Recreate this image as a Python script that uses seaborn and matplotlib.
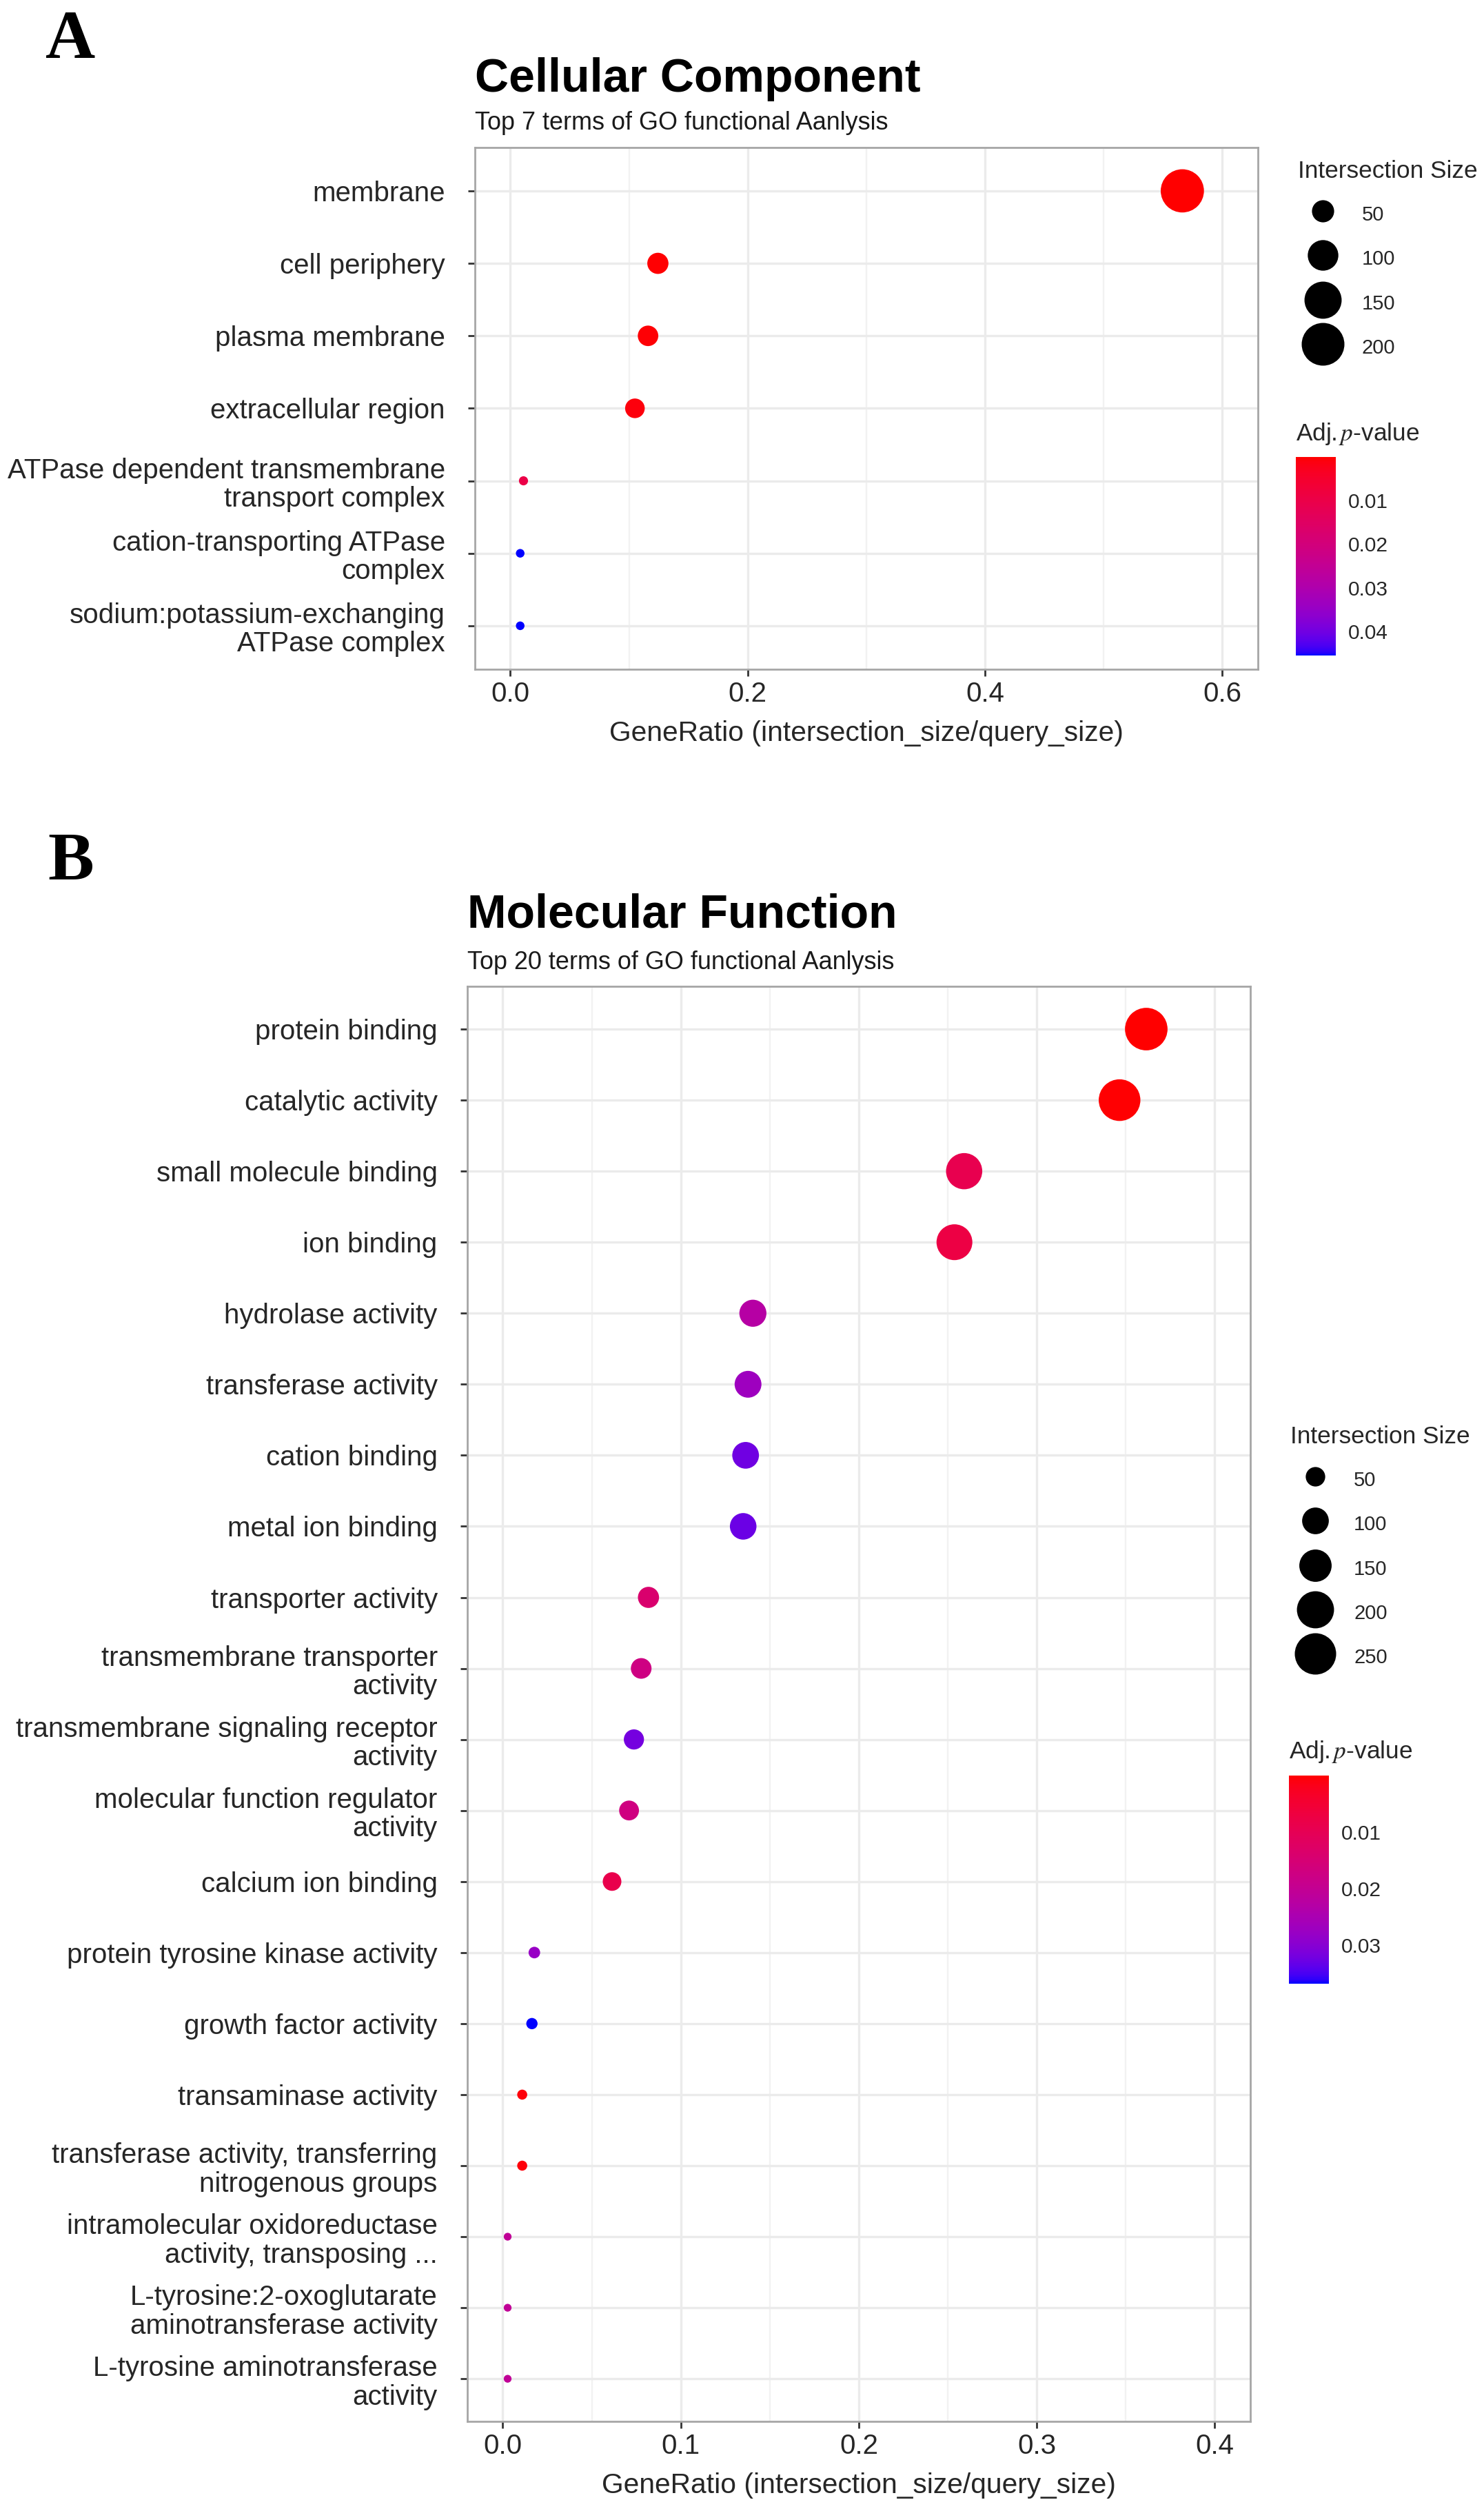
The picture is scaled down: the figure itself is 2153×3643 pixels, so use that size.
import numpy as np
import pandas as pd
import matplotlib
matplotlib.use("Agg")
import matplotlib.pyplot as plt
import seaborn as sns
from matplotlib.colors import ListedColormap, Normalize
from matplotlib.lines import Line2D
from matplotlib.ticker import MultipleLocator, FormatStrFormatter

# ---------------- data ----------------
# A: GO cellular component
cc_terms = ["membrane", "cell periphery", "plasma membrane", "extracellular region",
            "ATPase dependent transmembrane\ntransport complex",
            "cation-transporting ATPase\ncomplex",
            "sodium:potassium-exchanging\nATPase complex"]
cc_query_size = 362
cc_intersection = [205, 45, 42, 38, 4, 3, 3]
cc_padj = [2e-10, 3e-4, 5e-4, 9e-4, 0.0098, 0.0456, 0.0456]

# B: GO molecular function
mf_terms = ["protein binding", "catalytic activity", "small molecule binding", "ion binding",
            "hydrolase activity", "transferase activity", "cation binding", "metal ion binding",
            "transporter activity", "transmembrane transporter\nactivity",
            "transmembrane signaling receptor\nactivity",
            "molecular function regulator\nactivity",
            "calcium ion binding", "protein tyrosine kinase activity", "growth factor activity",
            "transaminase activity",
            "transferase activity, transferring\nnitrogenous groups",
            "intramolecular oxidoreductase\nactivity, transposing ...",
            "L-tyrosine:2-oxoglutarate\naminotransferase activity",
            "L-tyrosine aminotransferase\nactivity"]
mf_query_size = 733
mf_intersection = [265, 254, 190, 186, 103, 101, 100, 99, 60, 57, 54, 52, 45, 13, 12, 8, 8, 2, 2, 2]
mf_padj = [5e-5, 2e-4, 0.0092, 0.0074, 0.0228, 0.0269, 0.0324, 0.0328, 0.0140, 0.0173,
           0.0320, 0.0170, 0.0088, 0.0280, 0.0368, 7e-4, 7e-4, 0.0206, 0.0206, 0.0206]

cc_size_breaks = [50, 100, 150, 200]
mf_size_breaks = [50, 100, 150, 200, 250]
cc_p_ticks = [0.01, 0.02, 0.03, 0.04]
mf_p_ticks = [0.01, 0.02, 0.03]

W, H, DPI = 2153, 3643, 100
PX = DPI / 72.0  # pixels per point


# red -> blue gradient interpolated in CIE Lab (like ggplot's scale_colour_gradient)
M = np.array([[0.4124, 0.3576, 0.1805], [0.2126, 0.7152, 0.0722], [0.0193, 0.1192, 0.9505]])
M_INV = np.array([[3.2406, -1.5372, -0.4986], [-0.9689, 1.8758, 0.0415], [0.0557, -0.2040, 1.0570]])
WHITE = np.array([0.95047, 1.0, 1.08883])


def to_lab(rgb):
    rgb = np.asarray(rgb, float)
    lin = np.where(rgb <= 0.04045, rgb / 12.92, ((rgb + 0.055) / 1.055) ** 2.4)
    xyz = M @ lin / WHITE
    f = np.where(xyz > 216 / 24389, np.cbrt(xyz), (24389 / 27 * xyz + 16) / 116)
    return np.array([116 * f[1] - 16, 500 * (f[0] - f[1]), 200 * (f[1] - f[2])])


def lab_cmap(low, high, n=256):
    lab0, lab1 = to_lab(low), to_lab(high)
    t = np.linspace(0, 1, n)[:, None]
    lab = lab0 + (lab1 - lab0) * t
    fy = (lab[:, 0] + 16) / 116
    f = np.stack([fy + lab[:, 1] / 500, fy, fy - lab[:, 2] / 200], axis=1)
    xyz = np.where(f ** 3 > 216 / 24389, f ** 3, (116 * f - 16) * 27 / 24389) * WHITE
    lin = np.clip(xyz @ M_INV.T, 0, 1)
    rgb = np.where(lin <= 0.0031308, 12.92 * lin, 1.055 * lin ** (1 / 2.4) - 0.055)
    return ListedColormap(np.clip(rgb, 0, 1))


CMAP = lab_cmap((1, 0, 0), (0, 0, 1))


def dot_area(v, k):
    # dot area in pt^2, area grows linearly with intersection size
    return (100 + k * v) / PX ** 2


sns.set_theme(style="white")
plt.rcParams["font.family"] = ["Liberation Sans", "DejaVu Sans"]
plt.rcParams["mathtext.fontset"] = "stix"

TXT = "#262626"
fig = plt.figure(figsize=(W / DPI, H / DPI), dpi=DPI)


def fx(px):
    return px / W


def fy(px):
    return 1 - px / H


def dot_panel(rect, terms, inter, query, padj, k, xlim, major, minor,
              breaks, pticks, leg_xy, cbar_rect, ptitle_xy):
    ax = fig.add_axes(rect)
    df = pd.DataFrame({"term": terms,
                       "ratio": np.array(inter) / query,
                       "size": inter,
                       "padj": padj})
    norm = Normalize(min(padj), max(padj))
    sizes = {v: dot_area(v, k) for v in sorted(set(inter))}
    sns.scatterplot(data=df, x="ratio", y="term", hue="padj", palette=CMAP, hue_norm=norm,
                    size="size", sizes=sizes, linewidth=0, alpha=1, legend=False,
                    ax=ax, zorder=3)
    n = len(terms)
    ax.set_ylim(n - 0.4, -0.6)
    ax.set_xlim(*xlim)
    ax.xaxis.set_major_locator(MultipleLocator(major))
    ax.xaxis.set_minor_locator(MultipleLocator(minor))
    ax.xaxis.set_major_formatter(FormatStrFormatter("%.1f"))
    ax.set_axisbelow(True)
    ax.grid(which="major", color="#EBEBEB", lw=2.4)
    ax.grid(which="minor", axis="x", color="#F2F2F2", lw=1.7)
    for s in ax.spines.values():
        s.set_color("#A6A6A6")
        s.set_linewidth(2.0)
    ax.tick_params(which="major", length=7, width=2, color="#333333",
                   labelsize=29, labelcolor=TXT, bottom=True, left=True)
    ax.tick_params(axis="y", pad=24)
    ax.tick_params(axis="x", pad=5)
    ax.tick_params(which="minor", length=0)
    for lab in ax.get_yticklabels():
        lab.set_linespacing(1.12)
    ax.set_ylabel("")
    ax.set_xlabel("GeneRatio (intersection_size/query_size)", fontsize=29.3, color=TXT, labelpad=14)

    # size legend
    handles = [Line2D([], [], ls="", marker="o", color="black", markeredgewidth=0,
                      markersize=np.sqrt(dot_area(b, k))) for b in breaks]
    fig.legend(handles, [str(b) for b in breaks], title="Intersection Size",
               loc="upper left", bbox_to_anchor=(fx(leg_xy[0]), fy(leg_xy[1])),
               frameon=False, fontsize=21, title_fontsize=25.4, handlelength=72 / (21 * PX),
               handleheight=1.6, handletextpad=0.7, labelspacing=0.92, borderpad=0,
               borderaxespad=0, alignment="left")

    # p-value colour bar, low values on top
    cax = fig.add_axes(cbar_rect)
    sm = plt.cm.ScalarMappable(norm=norm, cmap=CMAP)
    cb = fig.colorbar(sm, cax=cax, ticks=pticks)
    cb.outline.set_visible(False)
    cax.invert_yaxis()
    cax.set_yticks(pticks)
    cax.set_yticklabels([f"{t:.2f}" for t in pticks])
    cax.tick_params(axis="y", direction="in", length=8, width=1.3, color="white",
                    left=True, right=True, labelleft=False, labelright=True,
                    labelsize=21.5, labelcolor=TXT, pad=13)
    fig.text(fx(ptitle_xy[0]), fy(ptitle_xy[1]), r"Adj.$\,\mathbf{\mathit{p}}$-value",
             fontsize=25.4, color=TXT, ha="left", va="center")
    return ax


# ---------------- panel A ----------------
dot_panel([fx(688.8), fy(971), (1825 - 688.8) / W, (971 - 213.8) / H],
          cc_terms, cc_intersection, cc_query_size, cc_padj, 18.7,
          (-0.03, 0.63), 0.2, 0.1, cc_size_breaks, cc_p_ticks,
          (1883, 232), [fx(1880), fy(951.4), 57.5 / W, (951.4 - 662.5) / H], (1880, 630))
fig.text(fx(66), fy(84), "A", family="Liberation Serif", fontweight="bold", fontsize=72,
         color="black", va="baseline")
fig.text(fx(688.8), fy(133.2), "Cellular Component", fontsize=49, fontweight="bold",
         color="black", va="baseline")
fig.text(fx(688.8), fy(187.9), "Top 7 terms of GO functional Aanlysis", fontsize=25.9,
         color="#1A1A1A", va="baseline")

# ---------------- panel B ----------------
dot_panel([fx(677.8), fy(3513), (1814 - 677.8) / W, (3513 - 1431.2) / H],
          mf_terms, mf_intersection, mf_query_size, mf_padj, 14.0,
          (-0.02, 0.42), 0.1, 0.05, mf_size_breaks, mf_p_ticks,
          (1871.7, 2068), [fx(1870), fy(2877.7), 58 / W, (2877.7 - 2575.9) / H], (1870, 2542))
fig.text(fx(69), fy(1275), "B", family="Liberation Serif", fontweight="bold", fontsize=72,
         color="black", va="baseline")
fig.text(fx(677.8), fy(1345.2), "Molecular Function", fontsize=49, fontweight="bold",
         color="black", va="baseline")
fig.text(fx(677.8), fy(1406.5), "Top 20 terms of GO functional Aanlysis", fontsize=25.9,
         color="#1A1A1A", va="baseline")

fig.savefig("out.png", dpi=DPI, facecolor="white")
